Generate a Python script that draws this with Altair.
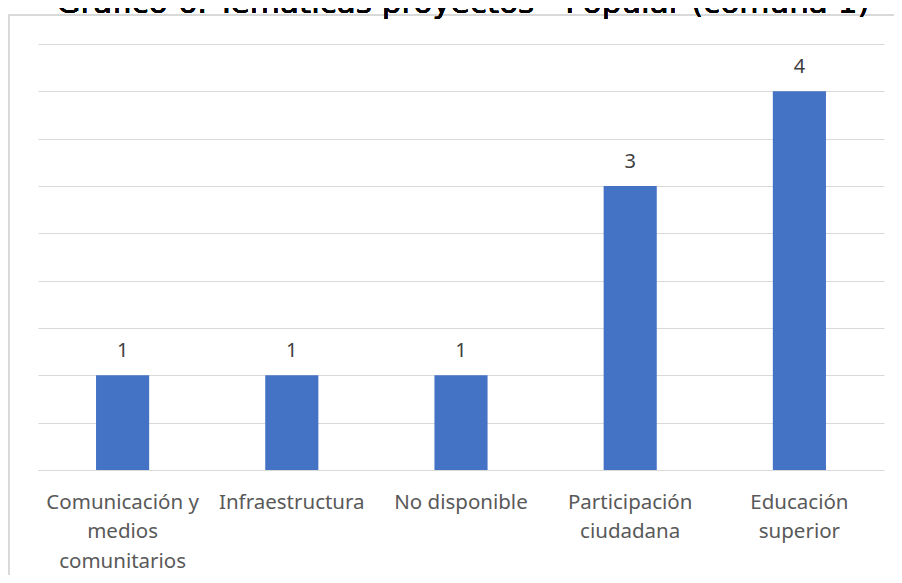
import altair as alt
import pandas as pd

categories = ["Comunicación y\nmedios\ncomunitarios", "Infraestructura", "No disponible",
              "Participación\nciudadana", "Educación\nsuperior"]
values = [1, 1, 1, 3, 4]
title_text = "Gráfico 6. Temáticas proyectos - Popular (comuna 1)"
grid_values = [0, 0.5, 1, 1.5, 2, 2.5, 3, 3.5, 4, 4.5]

df = pd.DataFrame({"cat": categories, "val": values})

W, H = 846, 426

x = alt.X("cat:N", sort=categories, title=None,
          scale=alt.Scale(paddingInner=0.686, paddingOuter=0.343),
          axis=alt.Axis(labelAngle=0, labelExpr="split(datum.label, '\\n')",
                        labelFont="Noto Sans", labelFontSize=20.5, labelColor="#595959",
                        labelLineHeight=29.5, labelPadding=22, ticks=False, grid=False,
                        domainColor="#d9d9d9", domainWidth=1.2, labelBaseline="top"))
y = alt.Y("val:Q", title=None, scale=alt.Scale(domain=[0, 4.5], nice=False, zero=True),
          axis=alt.Axis(values=grid_values, labels=False, ticks=False, domain=False,
                        gridColor="#d9d9d9", gridWidth=1.2))

border_left = alt.Chart(df).mark_rule(color="#d9d9d9", strokeWidth=2).encode(
    x=alt.value(-29), y=alt.value(-29), y2=alt.value(H + 130))
border_top = alt.Chart(df).mark_rule(color="#d9d9d9", strokeWidth=2).encode(
    x=alt.value(-30), x2=alt.value(W + 10), y=alt.value(-29))

bars = alt.Chart(df).mark_bar(color="#4472C4").encode(x=x, y=y)

labels = alt.Chart(df).mark_text(font="Noto Sans", fontSize=20, color="#404040",
                                 baseline="alphabetic", dy=-18).encode(
    x=alt.X("cat:N", sort=categories), y="val:Q", text="val:Q")

title = alt.Chart(df).mark_text(font="DejaVu Sans", fontSize=31, color="#000000",
                                baseline="alphabetic", align="center").encode(
    x=alt.value(W / 2 + 2), y=alt.value(-31), text=alt.value(title_text))

chart = alt.layer(bars, labels, border_left, border_top, title).properties(
    width=W, height=H,
    background="white",
    autosize=alt.AutoSizeParams(type="none"),
    padding={"left": 30, "top": 36, "right": 10, "bottom": 105},
).configure_view(stroke="transparent", strokeWidth=0)

chart.save("out.html", embed_options={"renderer": "svg", "actions": False})
